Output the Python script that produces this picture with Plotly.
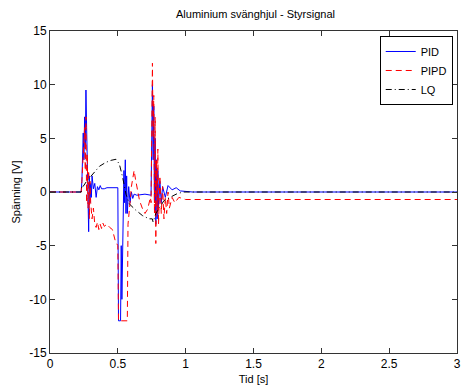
import plotly.graph_objects as go

# PID (blue solid)
t_pid = [0, 0.23, 0.235, 0.24, 0.245, 0.25, 0.255, 0.26, 0.265, 0.27, 0.275, 0.28, 0.285,
         0.29, 0.295, 0.30, 0.305, 0.31, 0.32, 0.33, 0.34, 0.35, 0.36, 0.37, 0.38, 0.40,
         0.42, 0.50, 0.502, 0.505, 0.52, 0.525, 0.53, 0.535, 0.54, 0.545, 0.55, 0.555,
         0.56, 0.565, 0.57, 0.58, 0.59, 0.60, 0.61, 0.62, 0.64, 0.70, 0.745, 0.75, 0.755,
         0.76, 0.765, 0.77, 0.775, 0.78, 0.785, 0.79, 0.795, 0.80, 0.81, 0.82, 0.83, 0.85,
         0.87, 0.90, 0.93, 0.96, 1.00, 1.05, 3.0]
v_pid = [0, 0, 1, 4, 5.5, 3, 7, 4, 9.5, 6, 3, -1, -3.7,
         1.5, -1, 0.8, -0.5, 1.5, 0.3, 0.8, -0.5, 0.5, 0.2, 0.6, 0.3, 0.3,
         0.4, 0.4, -6, -12, -12, -5, -10, -4, 0, 2, -1, 3,
         -2, 1.5, -2, 0.5, -1, 0, -0.6, -0.2, -0.3, -0.2, -0.3, 5, 10,
         3, 8, -1, 5, -3, 3, -2.5, 2, -1.5, 1, -1, 0.5, -0.5,
         0.6, 0.2, 0.4, 0.1, 0.05, 0, 0]

# PIPD (red dashed)
t_pipd = [0, 0.23, 0.235, 0.245, 0.255, 0.26, 0.265, 0.27, 0.275, 0.28, 0.285, 0.29,
          0.295, 0.30, 0.305, 0.31, 0.32, 0.33, 0.34, 0.35, 0.36, 0.37, 0.38, 0.39,
          0.40, 0.42, 0.44, 0.46, 0.48, 0.50, 0.505, 0.57, 0.575, 0.58, 0.59, 0.60,
          0.61, 0.62, 0.63, 0.64, 0.65, 0.66, 0.68, 0.70, 0.72, 0.74, 0.745, 0.75,
          0.755, 0.76, 0.765, 0.77, 0.775, 0.78, 0.785, 0.79, 0.795, 0.80, 0.81, 0.82,
          0.83, 0.84, 0.85, 0.86, 0.87, 0.88, 0.90, 0.92, 0.95, 1.00, 3.0]
v_pipd = [0, 0, 1, 4, 6, 2, 7, -1, 3.5, -1.5, 2, -2.5,
          1, -1, -2, -2.5, -1.5, -3.0, -3.3, -2.8, -3.5, -3.0, -3.4, -2.9,
          -3.2, -3.0, -3.3, -3.5, -4.5, -5, -12, -12, -3, -2.5, -1, 0.5,
          1.5, 2, 1.2, 0.5, 0, -0.8, -1.5, -2, -1.6, -0.5, -1, 6,
          12, 5, 9, -2, 7, -4.8, 3, -2, 4, -3, 1.5, -2,
          0.5, -2.5, -0.5, -2, 0, -1.5, -0.5, -1, -0.5, -0.7, -0.7]

# LQ (black dash-dot)
t_lq = [0, 0.23, 0.235, 0.243, 0.27, 0.316, 0.365, 0.41, 0.45, 0.487, 0.511, 0.535,
        0.56, 0.584, 0.633, 0.682, 0.73, 0.754, 0.76, 0.78, 0.84, 0.93, 0.98, 3.0]
v_lq = [0, 0, 0.6, 0.5, 1.0, 1.65, 2.4, 2.75, 2.95, 3.05, 2.6, 1.4,
        -0.2, -1.1, -1.7, -2.2, -2.5, -2.5, -2.8, -2.0, -0.8, -0.2, 0, 0]

x_ticks = [0, 0.5, 1, 1.5, 2, 2.5, 3]
x_ticklabels = ["0", "0.5", "1", "1.5", "2", "2.5", "3"]
y_ticks = [-15, -10, -5, 0, 5, 10, 15]
y_ticklabels = ["-15", "-10", "-5", "0", "5", "10", "15"]

fig = go.Figure()
fig.add_trace(go.Scatter(x=t_pid, y=v_pid, mode="lines", name="PID",
                         line=dict(color="#0000ff", width=1)))
fig.add_trace(go.Scatter(x=t_pipd, y=v_pipd, mode="lines", name="PIPD",
                         line=dict(color="#ff0000", width=1, dash="6px,4px")))
fig.add_trace(go.Scatter(x=t_lq, y=v_lq, mode="lines", name="LQ",
                         line=dict(color="#000000", width=1, dash="6px,3px,1px,3px")))

font = "Liberation Sans, Arial, sans-serif"
fig.update_layout(
    width=465, height=388,
    margin=dict(l=50, r=4, t=31, b=35),
    paper_bgcolor="white", plot_bgcolor="white",
    font=dict(family=font, size=11, color="black"),
    title=dict(text="Aluminium svänghjul - Styrsignal", x=(50 + 411 / 2) / 465,
               xanchor="center", y=1 - 14 / 388, yanchor="middle",
               font=dict(size=11)),
    showlegend=True,
    legend=dict(x=0.9895, y=0.9845, xanchor="right", yanchor="top",
                bordercolor="black", borderwidth=1, bgcolor="white",
                font=dict(size=11), tracegroupgap=0,
                itemwidth=30),
    xaxis=dict(range=[0, 3], tickvals=x_ticks, ticktext=x_ticklabels,
               showgrid=False, zeroline=False, showline=True, linecolor="#333",
               mirror="ticks", ticks="inside", ticklen=5, tickcolor="#333",
               tickfont=dict(size=12),
               title=dict(text="Tid [s]", font=dict(size=11), standoff=4)),
    yaxis=dict(range=[-15, 15], tickvals=y_ticks, ticktext=y_ticklabels,
               showgrid=False, zeroline=False, showline=True, linecolor="#333",
               mirror="ticks", ticks="inside", ticklen=5, tickcolor="#333",
               tickfont=dict(size=12),
               title=dict(text="Spänning [V]", font=dict(size=11), standoff=6)),
)

fig.write_html("out.html")
